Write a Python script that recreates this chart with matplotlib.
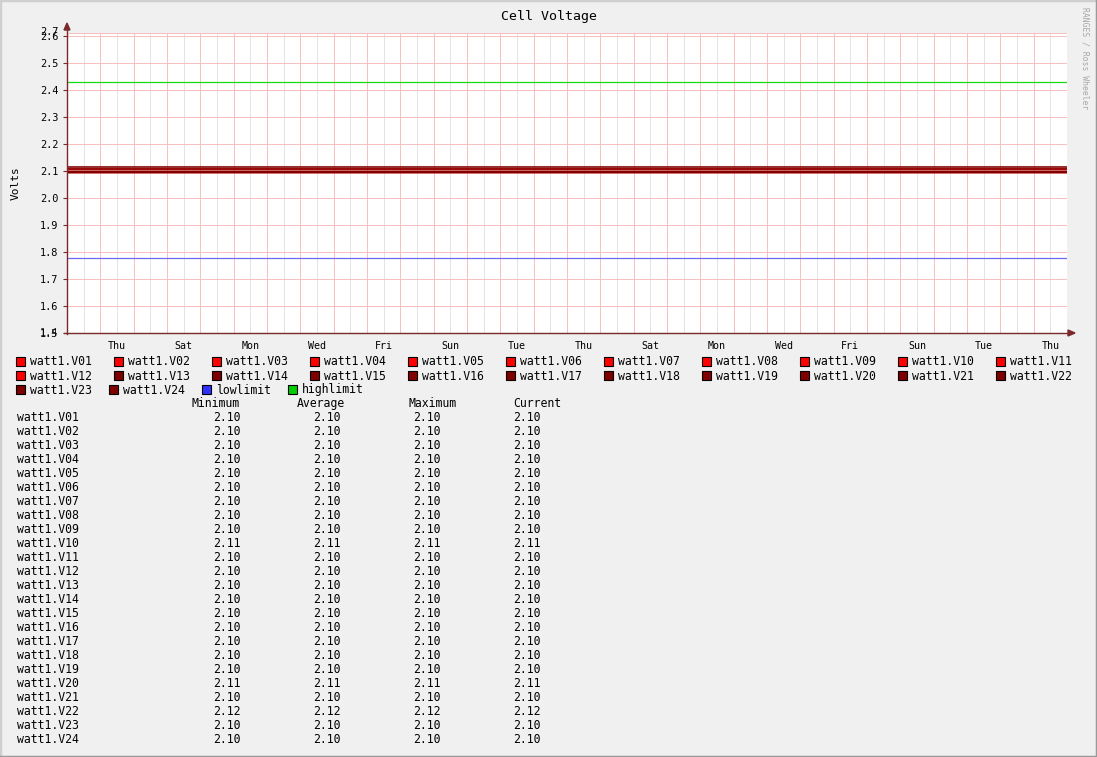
import matplotlib
matplotlib.use('Agg')
import matplotlib.pyplot as plt
from matplotlib.patches import Rectangle, Polygon
from matplotlib.lines import Line2D
import numpy as np

# ---------------- data ----------------
series_names = ['watt1.V01', 'watt1.V02', 'watt1.V03', 'watt1.V04', 'watt1.V05', 'watt1.V06',
                'watt1.V07', 'watt1.V08', 'watt1.V09', 'watt1.V10', 'watt1.V11', 'watt1.V12',
                'watt1.V13', 'watt1.V14', 'watt1.V15', 'watt1.V16', 'watt1.V17', 'watt1.V18',
                'watt1.V19', 'watt1.V20', 'watt1.V21', 'watt1.V22', 'watt1.V23', 'watt1.V24']
cell_values = [2.097, 2.097, 2.097, 2.097, 2.097, 2.097, 2.097, 2.097, 2.097, 2.108, 2.097, 2.097,
               2.097, 2.097, 2.097, 2.097, 2.097, 2.097, 2.097, 2.108, 2.097, 2.116, 2.097, 2.097]
time_days = [0.0, 30.0]           # 30 days, starting Wednesday 00:00
low_limit = 1.778
high_limit = 2.43
day_label_pos = [1.5, 3.5, 5.5, 7.5, 9.5, 11.5, 13.5, 15.5, 17.5, 19.5, 21.5, 23.5, 25.5, 27.5, 29.5]
day_labels = ['Thu', 'Sat', 'Mon', 'Wed', 'Fri', 'Sun', 'Tue', 'Thu', 'Sat', 'Mon', 'Wed', 'Fri',
              'Sun', 'Tue', 'Thu']
y_ticks = [1.5, 1.6, 1.7, 1.8, 1.9, 2.0, 2.1, 2.2, 2.3, 2.4, 2.5, 2.6]
y_min, y_max = 1.5, 2.611

# ---------------- styling ----------------
W, H = 1097, 757
BG = '#F0F0F0'
RED = '#FF0000'
DARK = '#800000'
BLUE = '#3030FF'
GREEN = '#00CC00'
MAJOR = '#F7C0C0'
MINOR = '#E4E4E4'
AXC = '#7A2A2A'
MONO = 'DejaVu Sans Mono'
plt.rcParams['font.family'] = MONO
FS = 8.3

def fx(x):
    return x / W

def fy(y):
    return 1 - y / H

def label(x, y, s, ha='left', **kw):
    # y is the visual centre line of the text, in pixels from the top
    fig.text(fx(x), fy(y + 4), s, ha=ha, va='baseline', fontsize=kw.pop('fontsize', FS),
             family=MONO, **kw)

fig = plt.figure(figsize=(W / 100, H / 100), dpi=100, facecolor=BG)
L, R, T, B = 67, 1067, 33, 333
ax = fig.add_axes([fx(L), fy(B), (R - L) / W, (B - T) / H])
ax.set_facecolor('white')
ax.set_xlim(time_days[0], time_days[-1])
ax.set_ylim(y_min, y_max)
for s in ax.spines.values():
    s.set_visible(False)

# grid
GLW = 0.72
for d in np.arange(time_days[0] + 0.5, time_days[-1], 1.0):
    ax.axvline(d, color=MINOR, lw=GLW, zorder=0)
for d in np.arange(time_days[0] + 1, time_days[-1], 1.0):
    ax.axvline(d, color=MAJOR, lw=GLW, zorder=0.5)
for v in y_ticks[1:]:
    ax.axhline(v, color=MAJOR, lw=GLW, zorder=0.5)
ax.axhline(y_max - 0.0005, color=MAJOR, lw=GLW, zorder=0.5)

# data lines
lw2 = 1.5
for i, (name, v) in enumerate(zip(series_names, cell_values)):
    col = RED if i < 12 else DARK
    ax.plot(time_days, [v, v], color=col, lw=lw2, alpha=0.8, solid_capstyle='butt', zorder=3)
ax.plot(time_days, [low_limit, low_limit], color='#6A6AF5', lw=0.9, zorder=3)
ax.plot(time_days, [high_limit, high_limit], color='#11DD11', lw=0.9, zorder=3)

# ticks
ax.set_xticks(day_label_pos)
ax.set_xticklabels(day_labels, fontsize=7.2, family=MONO)
ax.tick_params(axis='x', length=0, pad=6)
ax.set_yticks(y_ticks)
ax.set_yticklabels([f'{v:.1f}' for v in y_ticks], fontsize=7.4, family=MONO)
ax.tick_params(axis='y', length=3, color=AXC, pad=3)
# overlapping rrdtool-style edge labels
ax.text(-0.0085, 2.614, '2.7', transform=ax.get_yaxis_transform(), ha='right', va='center',
        fontsize=7.4, family=MONO)
ax.text(-0.0085, 1.5, '1.4', transform=ax.get_yaxis_transform(), ha='right', va='center',
        fontsize=7.4, family=MONO, alpha=0.8)

# axes lines with arrows
fig.add_artist(Line2D([fx(L), fx(L)], [fy(B + 1), fy(28)], color=AXC, lw=1.0))
fig.add_artist(Line2D([fx(L - 3), fx(1070)], [fy(B), fy(B)], color=AXC, lw=1.0))
fig.add_artist(Polygon([[fx(L), fy(23)], [fx(L - 3), fy(30)], [fx(L + 3), fy(30)]],
                       closed=True, color=AXC, transform=fig.transFigure))
fig.add_artist(Polygon([[fx(1075), fy(B)], [fx(1068), fy(B - 3)], [fx(1068), fy(B + 3)]],
                       closed=True, color=AXC, transform=fig.transFigure))

# title and labels
label(549, 16, 'Cell Voltage', ha='center', fontsize=9.5)
fig.text(fx(16), fy(183), 'Volts', ha='center', va='center', rotation=90, fontsize=8, family=MONO)
fig.text(fx(1085), fy(7), 'RANGES / Ross Wheeler', ha='center', va='top', rotation=-90,
         fontsize=5.8, family=MONO, color='#A8A8A8')

# legend
legend_items = [(n, RED if i < 12 else DARK) for i, n in enumerate(series_names)]
legend_items += [('lowlimit', BLUE), ('highlimit', GREEN)]
row_x = [16 + i * 98 for i in range(11)]
positions = []
for i in range(11):
    positions.append((row_x[i], 361.5))
for i in range(11):
    positions.append((row_x[i], 375.5))
for x in [16, 109, 202, 288]:
    positions.append((x, 389.5))
for (name, col), (x, y) in zip(legend_items, positions):
    fig.add_artist(Rectangle((fx(x), fy(y + 4.5)), 9 / W, 9 / H, facecolor=col,
                             edgecolor='black', lw=0.8, transform=fig.transFigure))
    label(x + 14, y, name)

# statistics table
hdr_y = 403
for text, xr in [('Minimum', 240), ('Average', 345), ('Maximum', 457), ('Current', 561)]:
    label(xr, hdr_y, text, ha='right')
for i, (name, v) in enumerate(zip(series_names, cell_values)):
    series = np.array([v, v])
    y = 417 + 14 * i
    label(17, y, name)
    stats = [series.min(), series.mean(), series.max(), series[-1]]
    for val, xr in zip(stats, [241, 341, 441, 541]):
        label(xr, y, f'{val:.2f}', ha='right')

# outer frame
fig.add_artist(Line2D([0, 0], [0, 1], color='#CFCFCF', lw=2.5, transform=fig.transFigure))
fig.add_artist(Line2D([0, 1], [1, 1], color='#CFCFCF', lw=2.5, transform=fig.transFigure))
fig.add_artist(Line2D([1, 1], [0, 1], color='#9A9A9A', lw=2.5, transform=fig.transFigure))
fig.add_artist(Line2D([0, 1], [0, 0], color='#9A9A9A', lw=2.5, transform=fig.transFigure))

fig.savefig('out.png', dpi=100, facecolor=BG)
